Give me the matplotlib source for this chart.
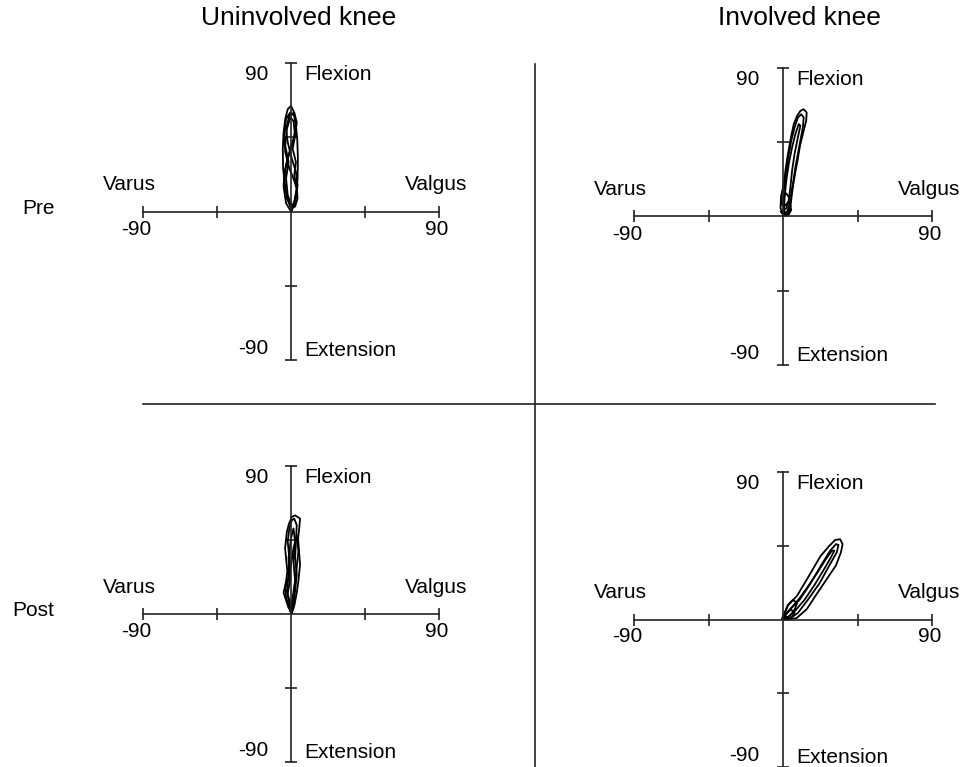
import matplotlib.pyplot as plt
from matplotlib.lines import Line2D

plt.rcParams['font.family'] = ['Liberation Sans', 'DejaVu Sans']

W, H = 960, 767

col_titles = ["Uninvolved knee", "Involved knee"]
row_titles = ["Pre", "Post"]
tick_vals = [-90, -45, 45, 90]

# varus(-)/valgus(+) angle vs flexion(+)/extension(-) angle, a few cycles per panel
pre_uninv_x = [
    [0.5, -1.5, -3.5, -4.8, -5.0, -4.5, -3.5, -2.0, 0.0, 1.5, 2.8, 3.8, 4.2, 4.0, 3.0, 1.8, 0.5],
    [0.2, -2.5, -4.0, -3.0, -1.0, 1.5, 3.0, 2.0, -0.5, -3.0, -4.2, -3.5, -1.0, 1.5, 3.5, 4.0, 2.5, 0.2],
    [0.0, -3.0, -4.5, -4.0, -2.0, 0.5, 2.5, 3.5, 2.0, -1.0, -3.0, -2.0, 0.5, 3.0, 4.0, 3.0, 1.0, 0.0],
    [0.5, -2.0, -3.0, -1.5, -3.5, -2.5, -0.5, 1.5, 2.5, 1.0, 3.0, 2.0, 3.5, 2.0, 0.5],
]
pre_uninv_y = [
    [1, 6, 14, 26, 38, 48, 56, 62, 64, 61, 54, 44, 32, 20, 10, 4, 1],
    [2, 8, 18, 28, 36, 44, 52, 58, 60, 56, 46, 36, 26, 20, 14, 8, 3, 2],
    [0, 5, 15, 24, 32, 40, 46, 54, 60, 58, 50, 42, 32, 24, 16, 8, 2, 0],
    [3, 10, 20, 30, 40, 50, 57, 55, 46, 38, 30, 22, 14, 6, 3],
]

pre_inv_x = [
    [0.5, -1.5, -1.2, 0.5, 1.5, 3.0, 4.8, 6.5, 8.5, 10.5, 12.5, 14.3, 14.0, 12.0, 10.3, 8.8, 7.3, 6.0, 5.2, 4.5, 3.0, 0.5],
    [1.0, 0.0, 0.5, 1.8, 3.2, 5.0, 7.0, 9.0, 11.0, 12.5, 12.0, 10.5, 9.0, 7.5, 6.3, 5.0, 4.0, 2.5, 1.0],
    [-1.2, 0.5, 3.0, 4.5, 4.0, 2.0, 0.0, -1.3, 0.5, 3.5, 5.0, 3.0, 0.5, -1.2],
    [0.5, 1.0, 2.0, 3.5, 5.5, 7.5, 9.5, 10.5, 9.0, 7.0, 5.5, 4.5, 3.5, 2.0, 0.5],
]
pre_inv_y = [
    [1, 5, 12, 20, 28, 38, 48, 56, 61, 64, 65, 63, 58, 50, 43, 34, 26, 18, 12, 6, 2, 1],
    [2, 8, 16, 26, 36, 46, 54, 60, 62, 60, 54, 46, 38, 30, 22, 14, 8, 3, 2],
    [3, 1, 2, 6, 11, 14, 12, 8, 6, 9, 4, 0.5, 0.5, 3],
    [4, 12, 22, 32, 42, 50, 56, 55, 48, 38, 28, 18, 10, 5, 4],
]

post_uninv_x = [
    [0.5, -1.6, -4.5, -3.0, -2.2, -3.6, -2.5, -1.2, 0.5, 2.5, 5.5, 5.0, 4.3, 5.5, 4.5, 3.5, 2.0, 0.5],
    [0.2, -1.0, -2.5, -1.5, -1.0, -2.0, -1.0, 0.5, 2.0, 3.5, 3.0, 2.5, 3.5, 2.5, 1.5, 0.2],
    [-0.5, -3.0, -3.5, -1.5, 0.0, 1.5, 3.5, 4.5, 3.0, 1.0, -0.5],
    [0.5, -2.0, -0.5, -1.5, 0.0, 1.5, 2.5, 1.5, 2.5, 1.5, 0.5],
]
post_uninv_y = [
    [0.5, 4, 13, 20, 26, 40, 50, 55, 59, 60, 58, 52, 46, 30, 20, 13, 5, 0.5],
    [1, 6, 14, 24, 34, 44, 52, 57, 58, 54, 44, 34, 24, 14, 6, 1],
    [2, 10, 16, 22, 30, 40, 48, 38, 24, 10, 2],
    [3, 12, 22, 34, 46, 52, 44, 32, 20, 8, 3],
]

post_inv_x = [
    [0.0, 3.0, 8.5, 14.5, 22.6, 28.0, 31.5, 34.5, 36.0, 35.0, 32.0, 26.0, 20.0, 14.5, 8.4, 4.0, 1.0, 0.0],
    [0.5, 4.0, 10.0, 16.0, 23.0, 28.5, 32.0, 33.5, 32.5, 28.0, 22.0, 15.0, 9.0, 4.0, 0.5],
    [1.0, 5.0, 10.0, 15.0, 21.0, 26.0, 29.5, 31.0, 29.0, 25.0, 19.0, 13.0, 7.0, 3.0, 1.0],
    [-0.5, 2.0, 5.0, 7.0, 5.0, 2.0, -0.5],
    [0.0, 3.0, 6.0, 8.5, 7.0, 4.0, 1.5, 0.0],
]
post_inv_y = [
    [1, 8.5, 14.5, 24.6, 38.6, 45, 48.5, 49, 46, 41, 33, 24, 15, 6.5, 1, 0, 0, 1],
    [1.5, 6, 12, 21, 33, 42, 46, 45.5, 41, 33, 22, 12, 4, 0.5, 1.5],
    [2, 7, 13, 20, 29, 37, 42, 42, 38, 31, 21, 12, 5, 1.5, 2],
    [0.5, 4, 6, 4, 1, 0, 0.5],
    [2, 9, 12, 10, 6, 2, 0.5, 2],
]

panels = [
    (pre_uninv_x, pre_uninv_y, (143, 63, 439, 360)),
    (pre_inv_x, pre_inv_y, (634, 68, 932, 365)),
    (post_uninv_x, post_uninv_y, (143, 466, 439, 762)),
    (post_inv_x, post_inv_y, (634, 472, 932, 767)),
]

axcol = '#222222'
fig = plt.figure(figsize=(W / 100, H / 100), dpi=100)

for xs, ys, (l, t, r, b) in panels:
    ax = fig.add_axes([l / W, 1 - b / H, (r - l) / W, (b - t) / H])
    ax.set_xlim(-90, 90)
    ax.set_ylim(-90, 90)
    for s in ['top', 'right']:
        ax.spines[s].set_visible(False)
    ax.spines['left'].set_position(('data', 0))
    ax.spines['bottom'].set_position(('data', 0))
    for s in ['left', 'bottom']:
        ax.spines[s].set_color(axcol)
        ax.spines[s].set_linewidth(1.2)
    ax.set_xticks(tick_vals)
    ax.set_yticks(tick_vals)
    ax.tick_params(direction='inout', length=9, width=1.2, color=axcol,
                   labelbottom=False, labelleft=False)
    ax.patch.set_visible(False)

    for x, y in zip(xs, ys):
        ax.plot(x, y, color='black', lw=1.3, clip_on=False)

    fs = 15
    ax.text(-98, 13, "Varus", ha='center', va='baseline', fontsize=fs)
    ax.text(88, 13, "Valgus", ha='center', va='baseline', fontsize=fs)
    ax.text(-94, -14, "-90", ha='center', va='baseline', fontsize=fs)
    ax.text(88.5, -14, "90", ha='center', va='baseline', fontsize=fs)
    ax.text(-14, 79.5, "90", ha='right', va='baseline', fontsize=fs)
    ax.text(8, 79.5, "Flexion", ha='left', va='baseline', fontsize=fs)
    ax.text(-14, -86.5, "-90", ha='right', va='baseline', fontsize=fs)
    ax.text(8, -87.5, "Extension", ha='left', va='baseline', fontsize=fs)

fig.text(299 / W, 1 - 18 / H, col_titles[0], ha='center', va='center', fontsize=19)
fig.text(799 / W, 1 - 18 / H, col_titles[1], ha='center', va='center', fontsize=19)
fig.text(38 / W, 1 - 209 / H, row_titles[0], ha='center', va='center', fontsize=15)
fig.text(33 / W, 1 - 611 / H, row_titles[1], ha='center', va='center', fontsize=15)

# quadrant dividers
fig.add_artist(Line2D([143 / W, 935 / W], [1 - 404 / H, 1 - 404 / H], color=axcol, lw=1.2))
fig.add_artist(Line2D([535 / W, 535 / W], [1 - 64 / H, 1 - 767 / H], color=axcol, lw=1.2))

fig.savefig('out.png', dpi=100)
